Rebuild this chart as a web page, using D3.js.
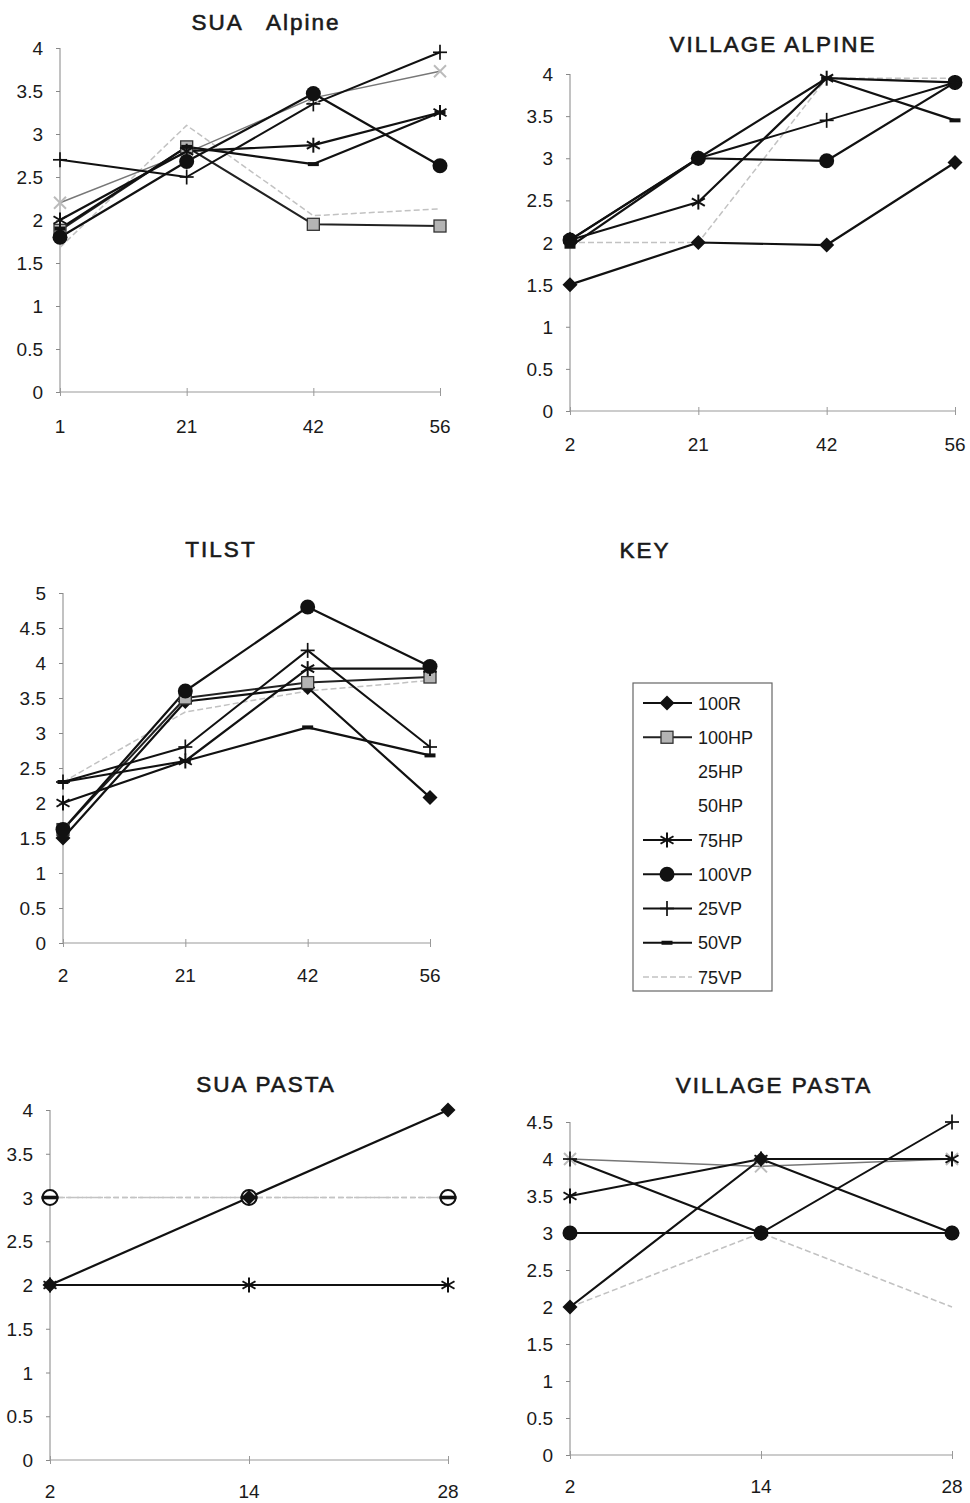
<!DOCTYPE html>
<html><head><meta charset="utf-8">
<script src="https://cdn.jsdelivr.net/npm/d3@7"></script>
<style>
body{margin:0;background:#fff}
svg{display:block}
text{font-family:"Liberation Sans",Arial,sans-serif;fill:#1a1a1a}
</style>
</head><body>
<svg id="c" width="970" height="1503"></svg>
<script>
// ---------- DATA ----------
const seriesNames = ["100R","100HP","25HP","50HP","75HP","100VP","25VP","50VP","75VP"];

const ticks4 = [0,0.5,1,1.5,2,2.5,3,3.5,4];
const ticks45 = [0,0.5,1,1.5,2,2.5,3,3.5,4,4.5];
const ticks5 = [0,0.5,1,1.5,2,2.5,3,3.5,4,4.5,5];

const suaAlpineDays = ["1","21","42","56"];
const suaAlpineSeries = [
  ["75VP",  [1.68, 3.10, 2.05, 2.13]],
  ["25HP",  [2.20, 2.78, 3.42, 3.73]],
  ["100HP", [1.88, 2.85, 1.95, 1.93]],
  ["75HP",  [2.00, 2.80, 2.87, 3.25]],
  ["50VP",  [1.90, 2.85, 2.65, 3.25]],
  ["25VP",  [2.70, 2.50, 3.35, 3.95]],
  ["100VP", [1.80, 2.68, 3.47, 2.63]]
];

const villageAlpineDays = ["2","21","42","56"];
const villageAlpineSeries = [
  ["75VP",  [2.00, 2.00, 3.95, 3.95]],
  ["100R",  [1.50, 2.00, 1.97, 2.95]],
  ["100VP", [2.03, 3.00, 2.97, 3.90]],
  ["75HP",  [2.03, 2.48, 3.95, 3.90]],
  ["25VP",  [2.03, 3.00, 3.45, 3.90]],
  ["50VP",  [1.95, 3.00, 3.95, 3.45]]
];

const tilstDays = ["2","21","42","56"];
const tilstSeries = [
  ["75VP",  [2.30, 3.30, 3.60, 3.75]],
  ["100R",  [1.50, 3.45, 3.65, 2.08]],
  ["100HP", [1.62, 3.50, 3.72, 3.80]],
  ["50VP",  [2.30, 2.60, 3.08, 2.68]],
  ["25VP",  [2.30, 2.80, 4.18, 2.80]],
  ["75HP",  [2.00, 2.60, 3.92, 3.92]],
  ["100VP", [1.62, 3.60, 4.80, 3.95]]
];

const suaPastaDays = ["2","14","28"];
const suaPastaSeries = [
  ["75VP",  [3, 3, 3]],
  ["50HP",  [3, 3, 3]],
  ["75HP",  [2, 2, 2]],
  ["100R",  [2, 3, 4]]
];

const villagePastaDays = ["2","14","28"];
const villagePastaSeries = [
  ["75VP",  [2, 3, 2]],
  ["25HP",  [4, 3.9, 4]],
  ["100VP", [3, 3, 3]],
  ["100R",  [2, 4, 3]],
  ["75HP",  [3.5, 4, 4]],
  ["25VP",  [4, 3, 4.5]]
];

// ---------- STYLES ----------
const styles = {
  "100R":  {line:"#111", w:2.2, dash:null,  marker:"diamond"},
  "100HP": {line:"#222", w:2,   dash:null,  marker:"square"},
  "25HP":  {line:"#777", w:1.5, dash:null,  marker:"xlight", legendHidden:true},
  "50HP":  {line:"#c4c4c4", w:1.5, dash:"5,3", marker:"ocircle", legendHidden:true},
  "75HP":  {line:"#111", w:2.2, dash:null,  marker:"asterisk"},
  "100VP": {line:"#111", w:2.2, dash:null,  marker:"circle"},
  "25VP":  {line:"#111", w:2,   dash:null,  marker:"plus"},
  "50VP":  {line:"#111", w:2.2, dash:null,  marker:"dash"},
  "75VP":  {line:"#c2c2c2", w:1.5, dash:"6,3", marker:"none"}
};

const panels = [
  {title:"SUA   Alpine", tx:266, ty:30, days:suaAlpineDays, series:suaAlpineSeries, ticks:ticks4, yMax:4,
   x0:60, x1:440, yBottom:392, yTop:48, labelY:433},
  {title:"VILLAGE ALPINE", tx:773, ty:52, days:villageAlpineDays, series:villageAlpineSeries, ticks:ticks4, yMax:4,
   x0:570, x1:955, yBottom:411, yTop:74, labelY:451},
  {title:"TILST", tx:221, ty:557, days:tilstDays, series:tilstSeries, ticks:ticks5, yMax:5,
   x0:63, x1:430, yBottom:943, yTop:593, labelY:982},
  {title:"SUA PASTA", tx:266, ty:1092, days:suaPastaDays, series:suaPastaSeries, ticks:ticks4, yMax:4,
   x0:50, x1:448, yBottom:1460, yTop:1110, labelY:1498},
  {title:"VILLAGE PASTA", tx:774, ty:1093, days:villagePastaDays, series:villagePastaSeries, ticks:ticks45, yMax:4.5,
   x0:570, x1:952, yBottom:1455, yTop:1122, labelY:1493}
];

const svg = d3.select("#c");

function drawMarker(g, type, cx, cy) {
  const m = g.append("g").attr("transform", `translate(${cx},${cy})`);
  if (type === "diamond") {
    m.append("path").attr("d","M0,-7.5L7.5,0L0,7.5L-7.5,0Z").attr("fill","#111");
  } else if (type === "square") {
    m.append("rect").attr("x",-6).attr("y",-6).attr("width",12).attr("height",12)
      .attr("fill","#b4b4b4").attr("stroke","#333").attr("stroke-width",1.3);
  } else if (type === "asterisk") {
    [90,30,150].forEach(a => {
      const r = a*Math.PI/180, dx = 7.5*Math.cos(r), dy = 7.5*Math.sin(r);
      m.append("line").attr("x1",-dx).attr("y1",-dy).attr("x2",dx).attr("y2",dy)
        .attr("stroke","#111").attr("stroke-width",2);
    });
  } else if (type === "circle") {
    m.append("circle").attr("r",7.5).attr("fill","#111");
  } else if (type === "plus") {
    m.append("line").attr("x1",-7).attr("x2",7).attr("y1",0).attr("y2",0).attr("stroke","#111").attr("stroke-width",1.7);
    m.append("line").attr("x1",0).attr("x2",0).attr("y1",-7.5).attr("y2",7.5).attr("stroke","#111").attr("stroke-width",1.7);
  } else if (type === "dash") {
    m.append("rect").attr("x",-5.5).attr("y",-2).attr("width",11).attr("height",4).attr("fill","#111");
  } else if (type === "xlight") {
    m.append("line").attr("x1",-6).attr("y1",-6).attr("x2",6).attr("y2",6).attr("stroke","#bbb").attr("stroke-width",2);
    m.append("line").attr("x1",-6).attr("y1",6).attr("x2",6).attr("y2",-6).attr("stroke","#bbb").attr("stroke-width",2);
  } else if (type === "ocircle") {
    m.append("circle").attr("r",7.5).attr("fill","#fff").attr("stroke","#111").attr("stroke-width",2);
    m.append("rect").attr("x",-8.5).attr("y",-1.8).attr("width",17).attr("height",3.6).attr("fill","#111");
  }
}

panels.forEach(p => {
  const g = svg.append("g");
  const x = d3.scalePoint().domain(p.days).range([p.x0, p.x1]).padding(0);
  const y = d3.scaleLinear().domain([0, p.yMax]).range([p.yBottom, p.yTop]);

  // title
  g.append("text").attr("x", p.tx).attr("y", p.ty).attr("text-anchor","middle")
    .style("white-space","pre").attr("font-size",22.5).attr("letter-spacing",2)
    .attr("stroke","#1a1a1a").attr("stroke-width",0.6).text(p.title);

  // y axis
  const ya = g.append("g").attr("transform",`translate(${p.x0},0)`)
    .call(d3.axisLeft(y).tickValues(p.ticks).tickSize(4).tickFormat(""));
  ya.select(".domain").attr("stroke","#999").attr("stroke-width",1.2).attr("d",`M0,${p.yBottom}V${p.yTop}`);
  ya.selectAll(".tick line").attr("stroke","#888");
  g.selectAll(".ylab").data(p.ticks).enter().append("text")
    .attr("x", p.x0 - 17).attr("y", d => y(d) + 7).attr("text-anchor","end")
    .attr("font-size",19).text(d => String(d));

  // x axis
  const xa = g.append("g").attr("transform",`translate(0,${p.yBottom})`)
    .call(d3.axisBottom(x).tickSize(4).tickFormat(""));
  xa.select(".domain").attr("stroke","#999").attr("stroke-width",1.2).attr("d",`M${p.x0},0H${p.x1}`);
  xa.selectAll(".tick line").attr("stroke","#999").attr("y1",-4);
  g.selectAll(".xlab").data(p.days).enter().append("text")
    .attr("x", d => x(d)).attr("y", p.labelY).attr("text-anchor","middle")
    .attr("font-size",19).text(d => d);

  const line = d3.line().defined(d => d[1] != null).x(d => x(d[0])).y(d => y(d[1]));
  p.series.forEach(([name, vals]) => {
    const s = styles[name];
    const pts = p.days.map((d,i) => [d, vals[i]]);
    g.append("path").attr("d", line(pts)).attr("fill","none")
      .attr("stroke", s.line).attr("stroke-width", s.w)
      .attr("stroke-dasharray", s.dash).attr("stroke-linejoin","round");
  });
  p.series.forEach(([name, vals]) => {
    const s = styles[name];
    p.days.forEach((d,i) => { if (vals[i] != null) drawMarker(g, s.marker, x(d), y(vals[i])); });
  });
});

// ---------- KEY ----------
const kg = svg.append("g");
kg.append("text").attr("x",645).attr("y",558).attr("text-anchor","middle")
  .attr("font-size",22.5).attr("letter-spacing",2).attr("stroke","#1a1a1a").attr("stroke-width",0.6).text("KEY");
kg.append("rect").attr("x",633).attr("y",683).attr("width",139).attr("height",308)
  .attr("fill","none").attr("stroke","#666").attr("stroke-width",1.2);
const ky = d3.scalePoint().domain(seriesNames).range([703, 977]);
seriesNames.forEach(n => {
  const s = styles[n], yy = ky(n);
  if (!s.legendHidden) {
    kg.append("line").attr("x1",643).attr("x2",692).attr("y1",yy).attr("y2",yy)
      .attr("stroke",s.line).attr("stroke-width",s.w).attr("stroke-dasharray",s.dash);
    drawMarker(kg, s.marker, 667, yy);
  }
  kg.append("text").attr("x",698).attr("y",yy+6.5).attr("font-size",18).text(n);
});
</script>
</body></html>
